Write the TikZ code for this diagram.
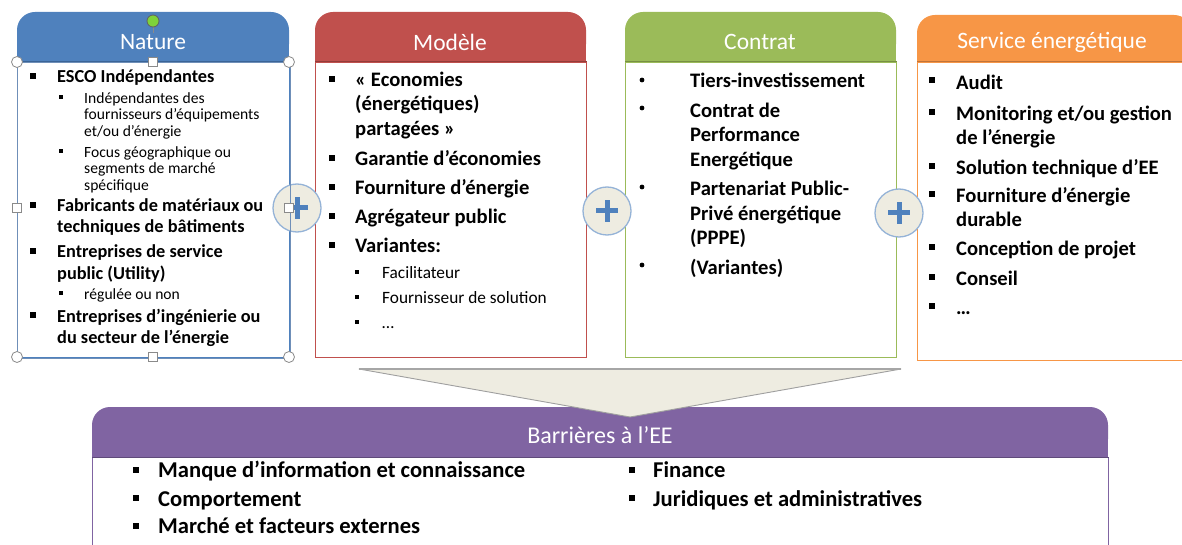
\documentclass[tikz,border=0pt]{standalone}
\usepackage{fontspec}
\setmainfont{Carlito}
\definecolor{natC}{HTML}{4F81BD}\definecolor{natD}{HTML}{3A6496}
\definecolor{modC}{HTML}{C0504D}\definecolor{modD}{HTML}{943C3A}
\definecolor{conC}{HTML}{9BBB59}\definecolor{conD}{HTML}{779043}
\definecolor{serC}{HTML}{F79646}\definecolor{serD}{HTML}{C0743A}
\definecolor{barC}{HTML}{8064A2}\definecolor{barD}{HTML}{5F4A7A}
\definecolor{beige}{HTML}{EEECE1}
\definecolor{ringC}{HTML}{95B3D7}
\definecolor{handleC}{HTML}{8A8A8A}
\definecolor{rotC}{HTML}{7ED23A}
\definecolor{selC}{HTML}{6F8FB8}

% header band: rounded top corners, square bottom corners
\newcommand\hdrband[5]{%
  \fill[#5, rounded corners=18] (#1,#2) rectangle (#3,#4);
  \fill[#5] (#1,#2+24) rectangle (#3,#4);}
% square bullet centred at (#1,#2), side #3
\newcommand\sqbul[3]{\fill (#1-#3/2,#2-#3/2) rectangle (#1+#3/2,#2+#3/2);}
% round bullet
\newcommand\rdbul[2]{\fill (#1,#2) circle[radius=2.4];}
% selection handles
\newcommand\rhandle[2]{\draw[handleC, fill=white, line width=0.8] (#1,#2) circle[radius=5.5];}
\newcommand\shandle[2]{\draw[handleC, fill=white, line width=0.8] (#1-4.5,#2-4.5) rectangle (#1+4.5,#2+4.5);}

\tikzset{
  hdtext/.style={text=white, inner sep=0, font=\fontsize{23.5}{28}\selectfont},
  item/.style={anchor=north west, inner sep=0, align=left, text=black, yshift=-1.8pt},
  natB/.style={item, font=\fontsize{18.3}{21}\selectfont\bfseries},
  natS/.style={item, font=\fontsize{15.6}{16.5}\selectfont},
  bigB/.style={item, font=\fontsize{20.6}{24.5}\selectfont\bfseries},
  serB/.style={item, font=\fontsize{20.6}{24}\selectfont\bfseries},
  modS/.style={item, font=\fontsize{17.3}{18}\selectfont},
  barB/.style={item, font=\fontsize{22.6}{28}\selectfont\bfseries},
  bodybox/.style={anchor=north west, inner sep=0, fill=white, line width=1},
  plus/.style={circle, minimum size=48, inner sep=0, fill=beige, draw=ringC, line width=1.3},
}

\begin{document}
\begin{tikzpicture}[x=1pt,y=-1pt]
\useasboundingbox (0,0) rectangle (1182,545);
\begin{scope}
\clip (0,0) rectangle (1182,545);

% ---------- Nature ----------
\hdrband{17}{12}{289}{62}{natC}
\node[bodybox, draw=natC, minimum width=272, minimum height=295] (bNat) at (17,62) {};
\draw[natD, line width=1] (bNat.north west) -- (bNat.north east);
\node[hdtext] (hNat) at (153,42) {Nature};
\node[natB] (n1) at (57,66.3) {\strut ESCO Indépendantes};
\node[natS] (n1a) at (84,89.5) {\strut Indépendantes des\\fournisseurs d’équipements\\et/ou d’énergie};
\node[natS] (n1b) at (84,143.5) {\strut Focus géographique ou\\segments de marché\\spécifique};
\node[natB] (n2) at (57,195.3) {\strut Fabricants de matériaux ou\\techniques de bâtiments};
\node[natB] (n3) at (57,241.3) {\strut Entreprises de service\\public (Utility)};
\node[natS] (n3a) at (84,285.5) {\strut régulée ou non};
\node[natB] (n4) at (57,305.3) {\strut Entreprises d’ingénierie ou\\du secteur de l’énergie};
\sqbul{33}{76}{5.5}\sqbul{33}{205}{5.5}\sqbul{33}{251}{5.5}\sqbul{33}{315}{5.5}
\sqbul{61}{97}{4.5}\sqbul{61}{151}{4.5}\sqbul{61}{293}{4.5}

% ---------- Modèle ----------
\hdrband{315}{12}{586}{62}{modC}
\node[bodybox, draw=modC, minimum width=271, minimum height=295] (bMod) at (315,62) {};
\draw[modD, line width=1] (bMod.north west) -- (bMod.north east);
\node[hdtext] (hMod) at (450,42) {Modèle};
\node[bigB] (m1) at (355,67.35) {\strut «~Economies\\(énergétiques)\\partagées~»};
\node[bigB] (m2) at (355,146.35) {\strut Garantie d’économies};
\node[bigB] (m3) at (355,175.35) {\strut Fourniture d’énergie};
\node[bigB] (m4) at (355,204.35) {\strut Agrégateur public};
\node[bigB] (m5) at (355,233.35) {\strut Variantes:};
\node[modS] (m5a) at (382,263.9) {\strut Facilitateur};
\node[modS] (m5b) at (382,288.9) {\strut Fournisseur de solution};
\node[modS] (m5c) at (382,313.9) {\strut …};
\foreach \yy in {79,158,187,216,245} {\sqbul{332}{\yy}{5.5}}
\foreach \yy in {272,297,322} {\sqbul{357}{\yy}{4.5}}

% ---------- Contrat ----------
\hdrband{625}{12}{896}{62}{conC}
\node[bodybox, draw=conC, minimum width=271, minimum height=295] (bCon) at (625,62) {};
\draw[conD, line width=1] (bCon.north west) -- (bCon.north east);
\node[hdtext] (hCon) at (760,42) {Contrat};
\node[bigB] (c1) at (690,68.35) {\strut Tiers-investissement};
\node[bigB] (c2) at (690,98.35) {\strut Contrat de\\Performance\\Energétique};
\node[bigB] (c3) at (690,176.35) {\strut Partenariat Public-\\Privé énergétique\\(PPPE)};
\node[bigB] (c4) at (690,255.35) {\strut (Variantes)};
\foreach \yy in {80,108,187,265} {\rdbul{642}{\yy}}

% ---------- Service énergétique ----------
\hdrband{917}{15}{1192}{62}{serC}
\node[bodybox, draw=serC, minimum width=275, minimum height=298] (bSer) at (917,62) {};
\draw[serD, line width=1] (bSer.north west) -- (bSer.north east);
\node[hdtext] (hSer) at (1052,42) {Service énergétique};
\node[serB] (s1) at (956,70.7) {\strut Audit};
\node[serB] (s2) at (956,101.7) {\strut Monitoring et/ou gestion\\de l’énergie};
\node[serB] (s3) at (956,155.7) {\strut Solution technique d’EE};
\node[serB] (s4) at (956,183.7) {\strut Fourniture d’énergie\\durable};
\node[serB] (s5) at (956,236.7) {\strut Conception de projet};
\node[serB] (s6) at (956,266.7) {\strut Conseil};
\node[serB] (s7) at (956,295.7) {\strut …};
\foreach \yy in {80,112,166,194,247,277,306} {\sqbul{932}{\yy}{5.5}}

% ---------- Barrières à l'EE ----------
\hdrband{92}{407}{1108}{457}{barC}
\node[bodybox, draw=barC, minimum width=1016, minimum height=120] (bBar) at (92,457) {};
\draw[barD, line width=1] (bBar.north west) -- (bBar.north east);
\node[hdtext, font=\fontsize{24}{28}\selectfont] (hBar) at (600,435) {Barrières à l’EE};
\node[barB] (b1) at (158,455.4) {\strut Manque d’information et connaissance};
\node[barB] (b2) at (158,484.4) {\strut Comportement};
\node[barB] (b3) at (158,511.4) {\strut Marché et facteurs externes};
\node[barB] (b4) at (653,455.4) {\strut Finance};
\node[barB] (b5) at (653,484.4) {\strut Juridiques et administratives};
\sqbul{136}{470}{6}\sqbul{136}{498}{6}\sqbul{136}{526}{6}
\sqbul{632}{470}{6}\sqbul{632}{498}{6}

% ---------- funnel towards the barriers ----------
\coordinate (fl) at (359,369);
\coordinate (fr) at (901,369);
\coordinate (ft) at (630,417);
\filldraw[fill=beige, draw=gray!75, line width=0.9, line join=round] (fl) -- (fr) -- (ft) -- cycle;
\draw[gray!70, line width=2] (fl) -- (fr);

% ---------- plus signs between the columns ----------
\foreach \nm/\px/\py in {p1/297/208, p2/607/211, p3/899/213} {
  \node[plus] (\nm) at (\px,\py) {};
  \draw[natC, line width=5] ([xshift=-11pt]\nm.center) -- ([xshift=11pt]\nm.center);
  \draw[natC, line width=5] ([yshift=-11pt]\nm.center) -- ([yshift=11pt]\nm.center);
}

% ---------- selection frame on the Nature shape ----------
\draw[selC, line width=0.9] (bNat.north west) rectangle (bNat.south east);
\draw[handleC, line width=0.8] (153,27) -- (153,33);
\draw[handleC!70!black, fill=rotC, line width=0.8] (153,21) circle[radius=6];
\rhandle{17}{62}\rhandle{289}{62}\rhandle{17}{357}\rhandle{289}{357}
\shandle{153}{62}\shandle{153}{357}\shandle{17}{208}\shandle{289}{208}
\end{scope}
\end{tikzpicture}
\end{document}
